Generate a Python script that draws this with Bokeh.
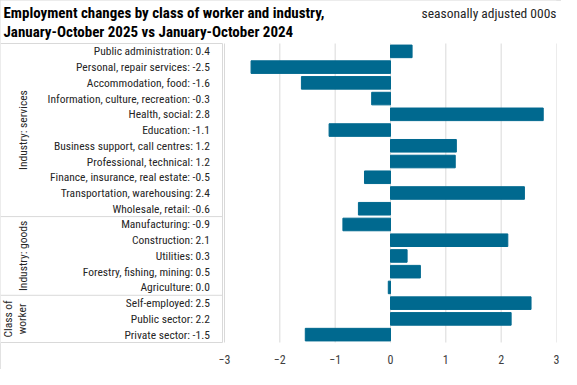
import math
from bokeh.plotting import figure
from bokeh.models import Range1d, FixedTicker, ColumnDataSource
from bokeh.core.properties import value
from bokeh.embed import file_html
from bokeh.resources import INLINE

# ---- data ----
TITLE_1 = "Employment changes by class of worker and industry,"
TITLE_2 = "January-October 2025 vs January-October 2024"
SUBTITLE = "seasonally adjusted 000s"

services = ["Public administration", "Personal, repair services", "Accommodation, food",
            "Information, culture, recreation", "Health, social", "Education",
            "Business support, call centres", "Professional, technical",
            "Finance, insurance, real estate", "Transportation, warehousing", "Wholesale, retail"]
services_values = [0.39, -2.52, -1.61, -0.34, 2.76, -1.11, 1.19, 1.17, -0.47, 2.42, -0.58]

goods = ["Manufacturing", "Construction", "Utilities", "Forestry, fishing, mining", "Agriculture"]
goods_values = [-0.86, 2.12, 0.30, 0.54, -0.04]

workers = ["Self-employed", "Public sector", "Private sector"]
workers_values = [2.54, 2.18, -1.54]

groups = ["Industry: services", "Industry: goods", "Class of\nworker"]
x_ticks = [-3, -2, -1, 0, 1, 2, 3]

# ---- styling / layout ----
FONT = "Liberation Sans Narrow, Roboto Condensed, Roboto"
BAR_COLOR = "#00698F"
GRID_COLOR = "#D9D9D9"
TEXT_COLOR = "#262626"

W, H = 561, 369
RIGHT_PX = 5          # space right of the plot area
PANEL_PX = 224        # width of the category panel (left of the first tick)
BOTTOM_PX = 26        # axis strip below
TOP_PX = 43           # title strip above the rows
FRAME_W = W - RIGHT_PX
FRAME_H = H - BOTTOM_PX

cats = services + goods + workers
vals = services_values + goods_values + workers_values
n = len(cats)
ys = [n - 1 - i for i in range(n)]

ROW_PX = (FRAME_H - TOP_PX - 1) / n
PX_PER_UNIT = (FRAME_W - PANEL_PX) / (x_ticks[-1] - x_ticks[0])
X_START = x_ticks[0] - PANEL_PX / PX_PER_UNIT
X_END = x_ticks[-1]
Y_START = -0.5 - 1 / ROW_PX
Y_END = n - 0.5 + TOP_PX / ROW_PX
PANEL_RIGHT = x_ticks[0] - 2 / PX_PER_UNIT

labels = []
for c, v in zip(cats, vals):
    r = round(v, 1)
    s = f"{r:.1f}" if r != 0 else "0.0"
    labels.append(f"{c}:  {s}")

src = ColumnDataSource(dict(y=ys, v=vals, lab=labels, x0=[x_ticks[0]] * n))

sizes = [len(services), len(goods), len(workers)]
bounds = []
acc = 0
for s in sizes:
    bounds.append((n - 0.5 - acc, n - 0.5 - acc - s))
    acc += s
g_y = [(a + b) / 2 for a, b in bounds]
g_off = [22, 22, 14]

p = figure(width=W, height=H, x_range=Range1d(X_START, X_END),
           y_range=Range1d(Y_START, Y_END), title="",
           output_backend="svg", toolbar_location=None, y_axis_location=None,
           min_border_left=0, min_border_right=RIGHT_PX,
           min_border_bottom=BOTTOM_PX, min_border_top=0)
p.styles = {"outline": "1px solid #D9D9D9", "outline-offset": "-1px"}
p.outline_line_color = None
p.background_fill_color = "white"
p.xgrid.visible = False
p.ygrid.visible = False
p.xaxis.ticker = FixedTicker(ticks=x_ticks)
p.xaxis.axis_line_color = None
p.xaxis.major_tick_line_color = None
p.xaxis.minor_tick_line_color = None
p.xaxis.major_label_text_font = FONT
p.xaxis.major_label_text_font_size = "12px"
p.xaxis.major_label_text_color = "#404040"
p.xaxis.major_label_standoff = 5

# grid lines over the plot area only
p.segment(x0=x_ticks, x1=x_ticks, y0=[-0.5] * len(x_ticks), y1=[n - 0.5] * len(x_ticks),
          line_color=GRID_COLOR, line_width=1)

# bars
p.hbar(y="y", left=0, right="v", height=0.8, source=src, color=BAR_COLOR)

# category panel lines
sep_y = [bounds[0][0]] + [b for _, b in bounds]
p.segment(x0=[X_START] * len(sep_y), x1=[PANEL_RIGHT] * len(sep_y), y0=sep_y, y1=sep_y,
          line_color=GRID_COLOR, line_width=1)
p.segment(x0=[PANEL_RIGHT], x1=[PANEL_RIGHT], y0=[sep_y[-1]], y1=[sep_y[0]],
          line_color=GRID_COLOR, line_width=1)

# category labels
p.text(x="x0", y="y", text="lab", source=src, x_offset=-12, text_align="right",
       text_baseline="middle", text_font=value(FONT), text_font_size="11.5px",
       text_color=TEXT_COLOR)

# group labels
gsrc = ColumnDataSource(dict(x=[X_START] * 3, y=g_y, t=groups, off=g_off))
p.text(x="x", y="y", text="t", source=gsrc, x_offset="off", angle=math.pi / 2,
       text_align="center", text_baseline="middle", text_font=value(FONT),
       text_font_size="11.5px", text_color=TEXT_COLOR, text_line_height=1.0)

# title and subtitle
p.text(x=[X_START, X_START], y=[Y_END, Y_END], text=[TITLE_1, TITLE_2],
       x_offset=3, y_offset=[12, 31], text_align="left", text_baseline="middle",
       text_font=value(FONT), text_font_size="15px", text_font_style="bold",
       text_color="#000000")
p.text(x=[X_END], y=[Y_END], text=[SUBTITLE], x_offset=0, y_offset=12,
       text_align="right", text_baseline="middle", text_font=value(FONT),
       text_font_size="13.5px", text_color=TEXT_COLOR)

open("out.html", "w").write(file_html(p, INLINE))
